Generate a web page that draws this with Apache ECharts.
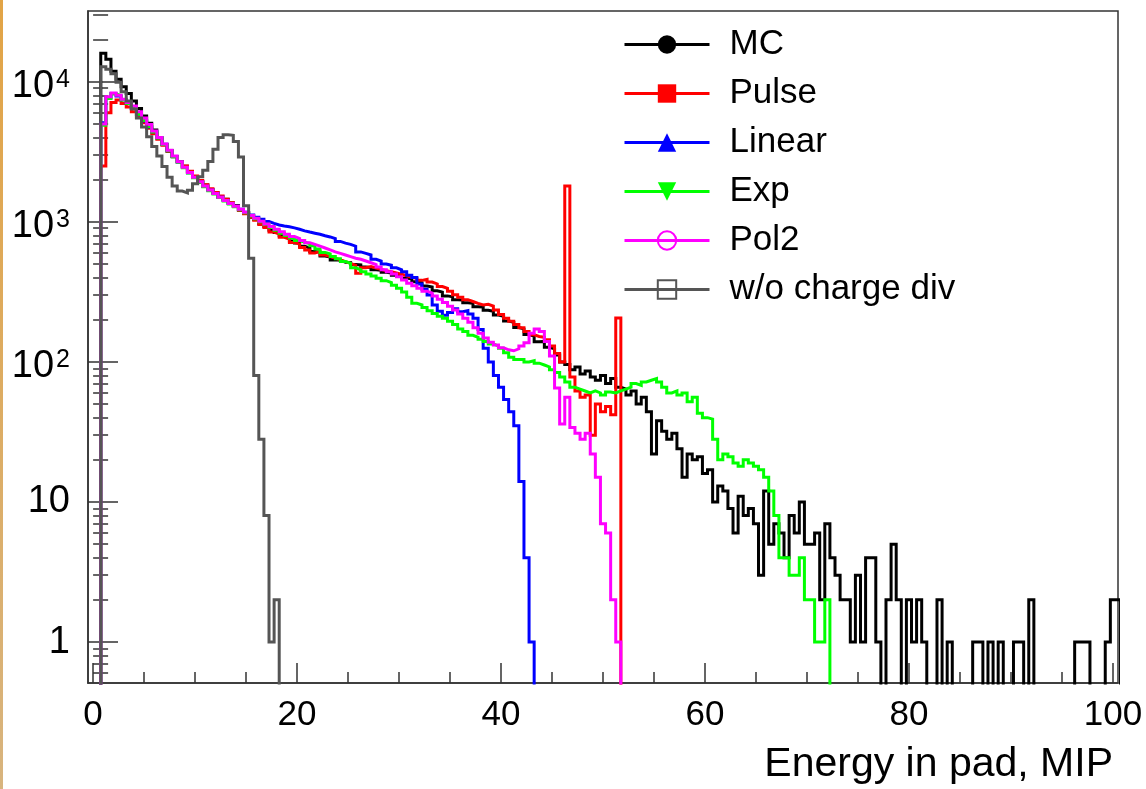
<!DOCTYPE html>
<html>
<head>
<meta charset="utf-8">
<script src="https://cdn.jsdelivr.net/npm/echarts@6/dist/echarts.min.js"></script>
<style>
html, body { margin: 0; padding: 0; background: #ffffff; }
#chart { width: 1146px; height: 789px; position: relative; }
#edge { position: absolute; left: 0; top: 0; width: 3px; height: 789px; background: linear-gradient(#e2a446, #d8b47e); }
</style>
</head>
<body>
<div id="chart"></div>
<div id="edge"></div>
<script>
// ---- histogram binning (MIP) ----
const BIN_START = 0.75;   // left edge of the first stored bin
const BIN_WIDTH = 0.5;

// ---- series values (entries per bin) ----
const MC = [
  16000, 14500, 11900, 10400, 9200, 8250, 7300, 6450, 5700, 5050,
  4520, 3980, 3560, 3190, 2910, 2690, 2490, 2280, 2110, 1940,
  1830, 1700, 1610, 1500, 1450, 1360, 1310, 1210, 1160, 1080,
  1040, 970, 925, 870, 840, 795, 770, 730, 705, 670,
  650, 615, 605, 570, 560, 535, 532, 515, 512, 495,
  492, 476, 472, 455, 452, 436, 432, 416, 412, 396,
  392, 374, 368, 348, 343, 322, 315, 296, 292, 278,
  277, 264, 262, 248, 247, 234, 230, 216, 212, 196,
  192, 176, 172, 157, 152, 139, 140, 127, 124, 112,
  100, 96, 88, 92, 82, 86, 78, 74, 80, 70,
  76, 66, 64, 58, 62, 50, 56, 44, 22, 38,
  32, 28, 31, 24, 15, 22, 20, 21, 16, 17,
  10, 13, 12, 9, 6, 11, 8, 9, 7, 3,
  12, 5, 7, 6, 4, 8, 6, 10, 5, 5,
  6, 2, 7, 4, 3, 2, 2, 1, 3, 1,
  4, 4, 1, 0, 2, 5, 2, 0, 2, 1,
  2, 1, 0, 0, 2, 0, 1, 0, 0, 0,
  0, 1, 1, 0, 1, 0, 1, 0, 0, 1,
  1, 0, 2, 0, 0, 0, 0, 0, 0, 0,
  0, 1, 1, 1, 0, 0, 0, 1, 2, 2
];
const PULSE = [
  2500, 6000, 7100, 7400, 7000, 6600, 6100, 5600, 5100, 4650,
  4250, 3880, 3520, 3200, 2930, 2700, 2500, 2300, 2120, 1970,
  1840, 1720, 1620, 1530, 1450, 1370, 1290, 1210, 1140, 1080,
  1025, 958, 910, 845, 818, 775, 752, 712, 694, 655,
  630, 600, 615, 580, 565, 550, 535, 520, 505, 490,
  430, 470, 480, 468, 458, 448, 440, 432, 422, 412,
  402, 395, 382, 388, 372, 360, 345, 335, 320, 302,
  290, 278, 270, 262, 255, 258, 250, 235, 218, 205,
  195, 185, 175, 165, 156, 152, 150, 144, 130, 115,
  100, 1800, 78, 62, 56, 58, 30, 50, 44, 48,
  42, 206
];
const LINEAR = [
  5100, 7700, 8200, 7900, 7450, 7000, 6450, 5850, 5250, 4750,
  4400, 3980, 3580, 3230, 2930, 2670, 2440, 2240, 2070, 1920,
  1790, 1680, 1590, 1500, 1420, 1350, 1290, 1230, 1170, 1120,
  1080, 1045, 1005, 975, 950, 935, 922, 905, 885, 862,
  845, 830, 815, 795, 780, 760, 725, 705, 690, 670,
  610, 595, 580, 540, 525, 500, 490, 470, 455, 440,
  415, 400, 360, 330, 300, 255, 230, 215, 225, 240,
  228, 232, 220, 205, 170, 125, 100, 80, 66, 54,
  44, 35, 14, 4, 1
];
const EXP = [
  4900, 7600, 8200, 7950, 7400, 7000, 6450, 5850, 5300, 4800,
  4380, 3960, 3570, 3220, 2920, 2660, 2430, 2230, 2060, 1910,
  1780, 1670, 1580, 1490, 1410, 1340, 1280, 1220, 1160, 1100,
  1050, 1000, 960, 915, 870, 830, 800, 765, 735, 715,
  700, 675, 640, 605, 590, 565, 545, 520, 505, 470,
  455, 440, 425, 410, 395, 380, 368, 352, 335, 315,
  290, 262, 255, 245, 232, 222, 212, 205, 195, 185,
  172, 165, 155, 150, 145, 140, 134, 130, 125, 116,
  108, 104, 104, 100, 102, 98, 95, 92, 88, 84,
  78, 72, 66, 64, 62, 60, 62, 60, 58, 61,
  60, 62, 64, 66, 70, 68, 72, 74, 76, 72,
  66, 60, 62, 58, 60, 52, 56, 43, 40, 39,
  28, 20, 22, 21, 19, 18, 20, 19, 18, 17,
  15, 12, 8, 4, 4, 3, 3, 4, 2, 2,
  1, 1, 2
];
const POL2 = [
  5000, 7800, 8300, 8000, 7500, 7100, 6700, 6100, 5500, 4950,
  4450, 4000, 3600, 3250, 2950, 2680, 2450, 2250, 2080, 1930,
  1800, 1690, 1590, 1500, 1420, 1350, 1290, 1230, 1170, 1110,
  1060, 1010, 965, 925, 885, 850, 815, 785, 760, 735,
  710, 690, 670, 650, 630, 610, 595, 580, 565, 550,
  540, 525, 510, 495, 475, 455, 440, 425, 405, 385,
  365, 350, 335, 320, 310, 295, 280, 265, 250, 235,
  220, 205, 192, 175, 160, 148, 138, 132, 126, 122,
  120, 124, 130, 137, 160, 172, 165, 140, 110, 65,
  36, 56, 34, 31, 28, 31, 22, 15, 7, 6,
  2, 1
];
const NO_CHARGE_DIV = [
  12800, 12300, 11400, 9900, 8500, 7300, 6400, 5500, 4750, 4050,
  3450, 2950, 2480, 2080, 1800, 1660, 1610, 1680, 1870, 2100,
  2330, 2700, 3300, 4000, 4180, 4150, 3750, 2900, 1300, 550,
  80, 28, 8, 1, 2
];

// ---- axes ----
const X_RANGE = [-0.5, 100.5];
const Y_RANGE = [0.51, 32000];
const X_MAJOR_TICKS = [0, 20, 40, 60, 80, 100];
const X_MINOR_TICKS = [5, 10, 15, 25, 30, 35, 45, 50, 55, 65, 70, 75, 85, 90, 95];
const Y_MAJOR_TICKS = [1, 10, 100, 1000, 10000];
const Y_MINOR_TICKS = [0.6, 0.7, 0.8, 0.9, 2, 3, 4, 5, 6, 7, 8, 9,
  20, 30, 40, 50, 60, 70, 80, 90, 200, 300, 400, 500, 600, 700, 800, 900,
  2000, 3000, 4000, 5000, 6000, 7000, 8000, 9000, 20000, 30000];
const X_TITLE = 'Energy in pad, MIP';

const FONT = '"Liberation Sans", Arial, Helvetica, sans-serif';
const INK = '#333333';

const SERIES_DEF = [
  { name: 'MC', values: MC, color: '#000000', symbol: 'circle' },
  { name: 'Pulse', values: PULSE, color: '#ff0000', symbol: 'rect' },
  { name: 'Linear', values: LINEAR, color: '#0000ff', symbol: 'triangle' },
  { name: 'Exp', values: EXP, color: '#00ff00', symbol: 'path://M0,0L20,0L10,18Z' },
  { name: 'Pol2', values: POL2, color: '#ff00ff', symbol: 'circle', hollow: true },
  { name: 'w/o charge div', values: NO_CHARGE_DIV, color: '#555555', symbol: 'rect', hollow: true }
];

// empty bins are drawn below the frame bottom (as ROOT does on a log axis)
const EMPTY = 0.1;
function histPoints(vals) {
  const pts = [[BIN_START - BIN_WIDTH, EMPTY]];
  vals.forEach(function (v, i) { pts.push([BIN_START + i * BIN_WIDTH, v > 0 ? v : EMPTY]); });
  pts.push([BIN_START + vals.length * BIN_WIDTH, EMPTY]);
  return pts;
}

function yLabel(v) {
  const e = Math.round(Math.log10(v));
  if (Math.abs(v - Math.pow(10, e)) > 1e-6 * v) return '';
  if (e === 0) return '{p|1}';
  if (e === 1) return '{p|10}';
  return '{b|10}{s|' + e + '}';
}

const chart = echarts.init(document.getElementById('chart'), null, { renderer: 'canvas' });
const option = {
  animation: false,
  backgroundColor: '#ffffff',
  textStyle: { fontFamily: FONT, color: '#000' },
  grid: {
    left: 88, right: 28, top: 11, bottom: 106,
    show: true, borderColor: INK, borderWidth: 1.5, backgroundColor: 'transparent',
    containLabel: false, outerBoundsMode: 'none'
  },
  legend: {
    orient: 'vertical', left: 623, top: 27, padding: 0,
    itemWidth: 85, itemHeight: 23, itemGap: 14,
    selectedMode: false,
    lineStyle: { width: 3 },
    textStyle: { fontFamily: FONT, fontSize: 35, color: '#000', lineHeight: 35, padding: [0, 0, 0, 15] },
    data: SERIES_DEF.map(function (s) {
      const d = { name: s.name };
      if (s.hollow) d.itemStyle = { color: 'rgba(0,0,0,0)', borderColor: s.color, borderWidth: 2 };
      return d;
    })
  },
  xAxis: [
    {
      type: 'value', min: X_RANGE[0], max: X_RANGE[1], position: 'bottom',
      axisLine: { show: true, onZero: false, lineStyle: { color: INK, width: 1.5 } },
      axisTick: { show: true, inside: true, length: 20, customValues: X_MAJOR_TICKS, lineStyle: { color: INK, width: 1.5 } },
      axisLabel: { show: true, customValues: X_MAJOR_TICKS, margin: 15, fontSize: 35, color: '#000', fontFamily: FONT },
      splitLine: { show: false }
    },
    {
      type: 'value', min: X_RANGE[0], max: X_RANGE[1], position: 'bottom',
      axisLine: { show: false },
      axisTick: { show: true, inside: true, length: 11, customValues: X_MINOR_TICKS, lineStyle: { color: INK, width: 1.5 } },
      axisLabel: { show: false },
      splitLine: { show: false }
    }
  ],
  yAxis: [
    {
      type: 'log', logBase: 10, min: Y_RANGE[0], max: Y_RANGE[1], position: 'left',
      axisLine: { show: true, onZero: false, lineStyle: { color: INK, width: 1.5 } },
      axisTick: { show: true, inside: true, length: 30, customValues: Y_MAJOR_TICKS, lineStyle: { color: INK, width: 1.5 } },
      axisLabel: {
        show: true, customValues: Y_MAJOR_TICKS, margin: 18, formatter: yLabel,
        rich: {
          p: { fontSize: 38, fontFamily: FONT, color: '#000', lineHeight: 38 },
          b: { fontSize: 38, fontFamily: FONT, color: '#000', lineHeight: 38, padding: [10, 0, 0, 0] },
          s: { fontSize: 25, fontFamily: FONT, color: '#000', lineHeight: 25, verticalAlign: 'top', padding: [5, 0, 0, 2] }
        }
      },
      splitLine: { show: false }
    },
    {
      type: 'log', logBase: 10, min: Y_RANGE[0], max: Y_RANGE[1], position: 'left',
      axisLine: { show: false },
      axisTick: { show: true, inside: true, length: 15, customValues: Y_MINOR_TICKS, lineStyle: { color: INK, width: 1.5 } },
      axisLabel: { show: false },
      splitLine: { show: false }
    }
  ],
  series: SERIES_DEF.map(function (s, idx) {
    return {
      name: s.name, type: 'line', step: 'end',
      xAxisIndex: 0, yAxisIndex: 0,
      data: histPoints(s.values),
      showSymbol: false, symbol: s.symbol, symbolSize: 10,
      lineStyle: { color: s.color, width: 3, join: 'miter' },
      itemStyle: { color: s.color },
      clip: true, silent: true, z: 2 + idx,
      emphasis: { disabled: true }
    };
  }),
  graphic: [
    {
      type: 'text', right: 33, top: 744,
      style: { text: X_TITLE, font: '41px ' + FONT, fill: '#000' }
    }
  ]
};
chart.setOption(option);
</script>
</body>
</html>
